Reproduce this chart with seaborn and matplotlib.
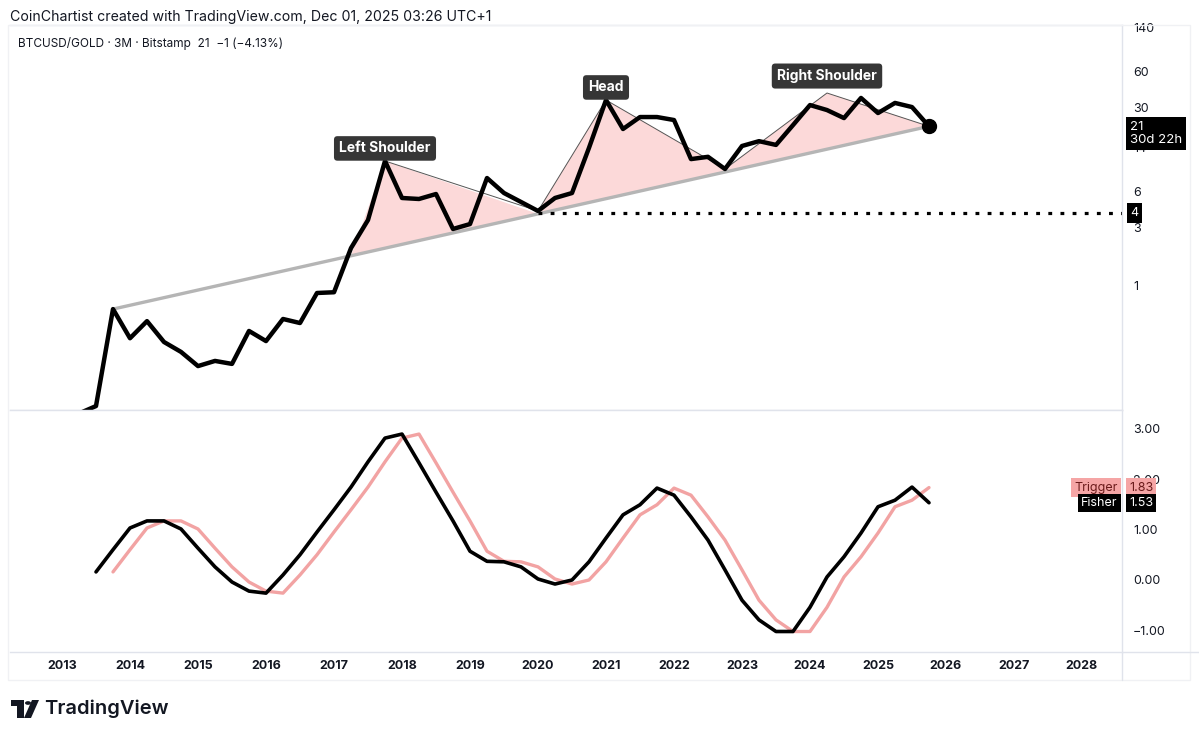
import matplotlib
matplotlib.use("Agg")
import matplotlib.pyplot as plt
from matplotlib.patches import Polygon, Rectangle, Circle
import seaborn as sns
import pandas as pd
import numpy as np

sns.set_theme(style="white")
plt.rcParams["font.family"] = ["Inter", "DejaVu Sans"]

# quarterly candles, BTCUSD/GOLD 3M closes
price_quarters = pd.period_range("2013Q2", "2025Q4", freq="Q")
price = [0.085, 0.098, 0.63,
         0.36, 0.50, 0.335, 0.277,
         0.211, 0.233, 0.22, 0.414,
         0.341, 0.521, 0.482, 0.858,
         0.87, 2.03, 3.48, 10.8,
         5.31, 5.21, 5.73, 2.93,
         3.22, 7.79, 5.84, 4.92,
         4.14, 5.31, 5.84, 13.9,
         34.8, 19.95, 25.1, 25.1,
         23.7, 11.2, 11.7, 9.26,
         14.4, 15.8, 14.7, 21.5,
         31.6, 28.7, 24.6, 36.2,
         27.1, 32.9, 30.4, 21.0]

fisher_quarters = pd.period_range("2013Q3", "2025Q4", freq="Q")
fisher = [0.16, 0.6,
          1.03, 1.17, 1.17, 1.01,
          0.63, 0.26, -0.04, -0.22,
          -0.26, 0.1, 0.5, 0.95,
          1.39, 1.84, 2.34, 2.81,
          2.89, 2.32, 1.74, 1.17,
          0.57, 0.37, 0.36, 0.26,
          0.02, -0.08, 0.0, 0.36,
          0.83, 1.29, 1.49, 1.82,
          1.68, 1.25, 0.79, 0.2,
          -0.4, -0.79, -1.02, -1.02,
          -0.54, 0.06, 0.46, 0.93,
          1.45, 1.58, 1.84, 1.53]

trigger_quarters = pd.period_range("2013Q4", "2025Q4", freq="Q")
trigger = [0.16,
           0.6, 1.03, 1.17, 1.17,
           1.01, 0.63, 0.26, -0.04,
           -0.22, -0.26, 0.1, 0.5,
           0.95, 1.39, 1.84, 2.34,
           2.81, 2.89, 2.32, 1.74,
           1.17, 0.57, 0.37, 0.36,
           0.26, 0.02, -0.08, 0.0,
           0.36, 0.83, 1.29, 1.49,
           1.82, 1.68, 1.25, 0.79,
           0.2, -0.4, -0.79, -1.02,
           -1.02, -0.54, 0.06, 0.46,
           0.93, 1.45, 1.58, 1.83]

# head & shoulders drawing
neck_start = (2013.75, 0.63)
neck_end = (2025.75, 21.0)
ls_pts = [2017.25, (2017.75, 10.8), (2020.0, 4.14)]
head_pts = [(2020.0, 4.14), (2021.0, 34.8), (2022.75, 9.26)]
rs_pts = [(2022.75, 9.26), (2024.25, 39.8), (2025.75, 21.0)]
support_level = 4
years = list(range(2013, 2029))
price_ticks = [1, 3, 6, 14, 30, 60, 140]
fisher_ticks = [-1, 0, 1, 2, 3]


def to_year(periods):
    return periods.year + (periods.quarter - 1) / 4


def neck(x):
    lx0, ly0 = neck_start[0], np.log10(neck_start[1])
    lx1, ly1 = neck_end[0], np.log10(neck_end[1])
    return 10 ** (ly0 + (ly1 - ly0) * (x - lx0) / (lx1 - lx0))


df_price = pd.DataFrame({"t": to_year(price_quarters), "price": price})
df_fisher = pd.DataFrame({"t": to_year(fisher_quarters), "fisher": fisher})
df_trig = pd.DataFrame({"t": to_year(trigger_quarters), "trigger": trigger})

W, H = 1199, 739
fig = plt.figure(figsize=(W / 100, H / 100), dpi=100)
fig.patch.set_facecolor("white")


def fx(x):
    return x / W


def fy(y):
    return 1 - y / H


left, right = 10, 1122
ax1 = fig.add_axes([fx(left), fy(410), fx(right - left), (410 - 25) / H])
ax2 = fig.add_axes([fx(left), fy(652), fx(right - left), (652 - 410) / H])

xmin = 2013 + (left - 62) / 68
xmax = 2013 + (right - 62) / 68
line_col = "#e0e3eb"
txt_col = "#131722"

# ---- top pane
ax1.set_yscale("log")
ax1.set_xlim(xmin, xmax)
ax1.set_ylim(10 ** ((285 - 410) / 120), 10 ** ((285 - 25) / 120))

ax1.add_patch(Polygon([(ls_pts[0], neck(ls_pts[0])), ls_pts[1], (ls_pts[2][0], neck(ls_pts[2][0]))],
                      closed=True, fc="#fcd9d9", ec="none", zorder=1))
for pts in (head_pts, rs_pts):
    ax1.add_patch(Polygon([(pts[0][0], neck(pts[0][0])), pts[0], pts[1], pts[2],
                           (pts[2][0], neck(pts[2][0]))],
                          closed=True, fc="#fcd9d9", ec="none", zorder=1))
ax1.plot([ls_pts[1][0], ls_pts[2][0]], [ls_pts[1][1], ls_pts[2][1]], color="#555555", lw=0.7, zorder=2)
for pts in (head_pts, rs_pts):
    ax1.plot([p[0] for p in pts], [p[1] for p in pts], color="#555555", lw=0.7, zorder=2)

ax1.plot([neck_start[0], neck_end[0]], [neck_start[1], neck_end[1]],
         color="#b5b5b5", lw=2.4, zorder=2, solid_capstyle="butt")
ax1.plot([ls_pts[2][0], xmax], [support_level, support_level], color="black", lw=2.3,
         linestyle=(0, (1.2, 2.6)), dash_capstyle="butt", zorder=3)

sns.lineplot(data=df_price, x="t", y="price", ax=ax1, color="black", lw=3.2, zorder=4)
ax1.plot([df_price["t"].iloc[-1]], [price[-1]], "o", color="black", ms=10, zorder=5)

lab_style = dict(boxstyle="round,pad=0.38,rounding_size=0.25", fc="#363636", ec="none")
for name, (x, y), off in [("Left Shoulder", ls_pts[1], 4), ("Head", head_pts[1], 4),
                          ("Right Shoulder", rs_pts[1], 7)]:
    ax1.annotate(name, xy=(x, y), xytext=(0, off), textcoords="offset points",
                 ha="center", va="bottom", color="white", fontsize=10, fontweight="bold",
                 bbox=lab_style, zorder=6)

ax1.yaxis.tick_right()
ax1.set_yticks(price_ticks)
ax1.set_yticklabels([str(v) for v in price_ticks])
ax1.yaxis.set_minor_locator(matplotlib.ticker.NullLocator())
ax1.tick_params(axis="y", length=0, pad=8, labelsize=9, labelcolor=txt_col)
ax1.set_xticks([])
ax1.set_xlabel("")
ax1.set_ylabel("")

ax1.annotate("21\n30d 22h", xy=(1, price[-1]), xycoords=("axes fraction", "data"),
             xytext=(6, -5), textcoords="offset points", ha="left", va="center",
             color="white", fontsize=9.5, linespacing=1.1, annotation_clip=False,
             bbox=dict(boxstyle="square,pad=0.3", fc="black", ec="none"), zorder=7)
ax1.annotate("4", xy=(1, support_level), xycoords=("axes fraction", "data"),
             xytext=(6, 0), textcoords="offset points", ha="left", va="center",
             color="white", fontsize=9, annotation_clip=False,
             bbox=dict(boxstyle="square,pad=0.3", fc="black", ec="none"), zorder=7)

# ---- bottom pane
ax2.set_xlim(xmin, xmax)
ax2.set_ylim((580 - 652) / 50.5, (580 - 410) / 50.5)
sns.lineplot(data=df_trig, x="t", y="trigger", ax=ax2, color="#f2a3a3", lw=2.4, zorder=3)
sns.lineplot(data=df_fisher, x="t", y="fisher", ax=ax2, color="black", lw=2.6, zorder=4)

ax2.yaxis.tick_right()
ax2.set_yticks(fisher_ticks)
ax2.set_yticklabels([f"{v:.2f}".replace("-", "\u2212") for v in fisher_ticks])
ax2.tick_params(axis="y", length=0, pad=8, labelsize=9, labelcolor=txt_col)
ax2.set_xticks(years)
ax2.set_xticklabels([str(y) for y in years], fontweight="bold")
ax2.tick_params(axis="x", length=0, pad=6, labelsize=9, labelcolor=txt_col)
ax2.set_xlabel("")
ax2.set_ylabel("")

for name, val, fc, tc in [("Trigger", trigger[-1], "#f5a5a5", "#6b1b1b"),
                          ("Fisher", fisher[-1], "black", "white")]:
    bb = dict(boxstyle="square,pad=0.25", fc=fc, ec="none")
    ax2.annotate(name, xy=(1, val), xycoords=("axes fraction", "data"), xytext=(-3, 0),
                 textcoords="offset points", ha="right", va="center", color=tc,
                 fontsize=9, bbox=bb, annotation_clip=False, zorder=7)
    ax2.annotate(f"{val:.2f}", xy=(1, val), xycoords=("axes fraction", "data"), xytext=(5, 0),
                 textcoords="offset points", ha="left", va="center", color=tc,
                 fontsize=9, bbox=bb, annotation_clip=False, zorder=7)

for ax in (ax1, ax2):
    ax.set_facecolor("white")
    for s in ax.spines.values():
        s.set_color(line_col)
        s.set_linewidth(1)
ax1.spines["left"].set_visible(False)
ax2.spines["left"].set_visible(False)

# outer frame of the chart widget and axis row
fig.add_artist(Rectangle((fx(8), fy(680)), fx(1190 - 8), (680 - 25) / H, transform=fig.transFigure,
                         fill=False, ec="#f0f1f4", lw=1))
fig.add_artist(plt.Line2D([fx(right), fx(right)], [fy(680), fy(652)], transform=fig.transFigure,
                          color=line_col, lw=1))
fig.add_artist(plt.Line2D([fx(right), fx(1199)], [fy(652), fy(652)], transform=fig.transFigure,
                          color=line_col, lw=1))

# header
fig.text(fx(10), fy(17), "CoinChartist created with TradingView.com, Dec 01, 2025 03:26 UTC+1",
         ha="left", va="center", fontsize=10.2, color=txt_col)
fig.text(fx(18), fy(44), "BTCUSD/GOLD \u00b7 3M \u00b7 Bitstamp  21  \u22121 (\u22124.13%)",
         ha="left", va="center", fontsize=8.5, color=txt_col)

# TradingView logo
fig.add_artist(Rectangle((fx(11), fy(706)), fx(13), 6 / H, transform=fig.transFigure,
                         fc=txt_col, ec="none"))
fig.add_artist(Rectangle((fx(17), fy(718)), fx(7), 12 / H, transform=fig.transFigure,
                         fc=txt_col, ec="none"))
fig.add_artist(Circle((fx(28), fy(703)), 3 / W, transform=fig.transFigure, fc=txt_col, ec="none"))
fig.add_artist(Polygon([(fx(32), fy(700)), (fx(39), fy(700)), (fx(31), fy(718)), (fx(24), fy(718))],
                       closed=True, transform=fig.transFigure, fc=txt_col, ec="none"))
fig.text(fx(44), fy(709), "TradingView", ha="left", va="center", fontsize=14.5,
         fontweight="semibold", color=txt_col)

fig.savefig("out.png", dpi=100, facecolor="white")
